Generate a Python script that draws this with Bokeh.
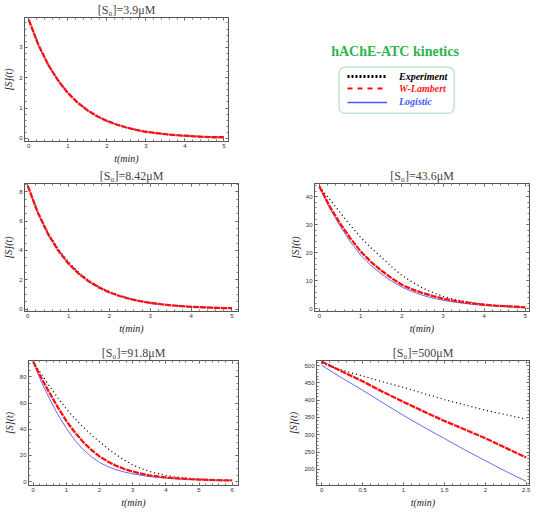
import numpy as np
from bokeh.plotting import figure
from bokeh.models import (Range1d, FixedTicker, LinearAxis, BoxAnnotation, Label,
                          Legend, LegendItem)
from bokeh.layouts import row, column
from bokeh.embed import file_html
from bokeh.resources import INLINE

# ---------------- data ----------------
series_names = ["Experiment", "W-Lambert", "Logistic"]

# Panel 1: [S0]=3.9 uM
t1 = [0, 0.25, 0.5, 0.75, 1, 1.25, 1.5, 1.75, 2, 2.25, 2.5, 2.75, 3, 3.25, 3.5, 3.75, 4, 4.25, 4.5, 4.75, 5]
exp1 = [3.90, 3.08, 2.43, 1.92, 1.51, 1.19, 0.94, 0.74, 0.58, 0.46, 0.36, 0.29, 0.23, 0.18, 0.14, 0.11, 0.09, 0.07, 0.06, 0.05, 0.04]
lam1 = [3.90, 3.07, 2.42, 1.91, 1.50, 1.18, 0.93, 0.73, 0.58, 0.46, 0.36, 0.28, 0.22, 0.18, 0.14, 0.11, 0.09, 0.07, 0.05, 0.04, 0.04]
log1 = [3.90, 3.06, 2.41, 1.90, 1.49, 1.18, 0.93, 0.73, 0.57, 0.45, 0.36, 0.28, 0.22, 0.17, 0.14, 0.11, 0.08, 0.07, 0.05, 0.04, 0.03]

# Panel 2: [S0]=8.42 uM
t2 = [0, 0.25, 0.5, 0.75, 1, 1.25, 1.5, 1.75, 2, 2.25, 2.5, 2.75, 3, 3.25, 3.5, 3.75, 4, 4.25, 4.5, 4.75, 5]
exp2 = [8.42, 6.62, 5.20, 4.08, 3.20, 2.50, 1.95, 1.52, 1.18, 0.92, 0.72, 0.56, 0.43, 0.34, 0.26, 0.20, 0.16, 0.12, 0.10, 0.08, 0.06]
lam2 = [8.42, 6.56, 5.11, 3.98, 3.10, 2.41, 1.88, 1.46, 1.14, 0.89, 0.69, 0.54, 0.42, 0.33, 0.25, 0.20, 0.15, 0.12, 0.09, 0.07, 0.06]
log2 = [8.42, 6.54, 5.08, 3.95, 3.07, 2.39, 1.86, 1.45, 1.13, 0.88, 0.68, 0.53, 0.41, 0.32, 0.25, 0.19, 0.15, 0.12, 0.09, 0.07, 0.05]

# Panel 3: [S0]=43.6 uM
t3 = [0, 0.25, 0.5, 0.75, 1, 1.25, 1.5, 1.75, 2, 2.25, 2.5, 2.75, 3, 3.25, 3.5, 3.75, 4, 4.25, 4.5, 4.75, 5]
exp3 = [43.6, 39.0, 34.4, 29.8, 25.5, 21.8, 18.5, 15.1, 12.0, 9.6, 7.5, 5.9, 4.5, 3.5, 2.8, 2.2, 1.7, 1.4, 1.1, 0.9, 0.7]
lam3 = [43.6, 36.5, 30.5, 25.2, 20.5, 16.8, 13.7, 11.0, 8.6, 7.0, 5.7, 4.6, 3.7, 3.0, 2.4, 1.9, 1.5, 1.2, 1.0, 0.8, 0.6]
log3 = [43.6, 35.8, 29.6, 23.9, 19.2, 15.5, 12.5, 9.9, 7.8, 6.2, 4.9, 3.9, 3.1, 2.5, 2.0, 1.6, 1.3, 1.05, 0.85, 0.7, 0.55]

# Panel 4: [S0]=91.8 uM
t4 = [0, 0.25, 0.5, 0.75, 1, 1.25, 1.5, 1.75, 2, 2.25, 2.5, 2.75, 3, 3.25, 3.5, 3.75, 4, 4.25, 4.5, 4.75, 5, 5.25, 5.5, 5.75, 6]
exp4 = [91.8, 82.0, 72.6, 63.8, 55.5, 48.3, 41.8, 35.8, 30.4, 25.3, 20.6, 16.4, 12.8, 10.0, 7.8, 6.1, 4.8, 3.8, 3.0, 2.4, 1.9, 1.6, 1.3, 1.1, 0.9]
lam4 = [91.8, 79.0, 67.5, 56.5, 46.4, 37.8, 30.4, 24.3, 19.2, 15.3, 12.1, 9.6, 7.6, 6.0, 4.8, 3.9, 3.2, 2.6, 2.2, 1.8, 1.5, 1.3, 1.1, 0.95, 0.85]
log4 = [91.8, 76.0, 63.0, 51.0, 40.7, 31.8, 24.7, 19.1, 14.6, 11.5, 9.1, 7.3, 5.9, 4.8, 3.9, 3.2, 2.7, 2.2, 1.9, 1.6, 1.4, 1.2, 1.0, 0.9, 0.8]

# Panel 5: [S0]=500 uM
t5 = [0, 0.25, 0.5, 0.75, 1, 1.25, 1.5, 1.75, 2, 2.25, 2.5]
exp5 = [507, 487, 470, 453, 437, 419, 402, 386, 371, 358, 345]
lam5 = [512, 483, 455, 424, 395, 367, 340, 315, 290, 262, 234]
log5 = [501, 464, 429, 392, 356, 322, 289, 256, 225, 194, 165]

titles = ["[S\u2080]=3.9\u03bcM", "[S\u2080]=8.42\u03bcM", "[S\u2080]=43.6\u03bcM",
          "[S\u2080]=91.8\u03bcM", "[S\u2080]=500\u03bcM"]

xt_0_5 = [0, 1, 2, 3, 4, 5]
xt_0_6 = [0, 1, 2, 3, 4, 5, 6]
xt5 = [0, 0.5, 1, 1.5, 2, 2.5]
xt5_labels = ["0", "0.5", "1", "1.5", "2", "2.5"]
yt1 = [0, 1, 2, 3]
yt2 = [0, 2, 4, 6, 8]
yt3 = [0, 10, 20, 30, 40]
yt4 = [0, 20, 40, 60, 80]
yt5 = [200, 250, 300, 350, 400, 450, 500]

legend_title = "hAChE-ATC kinetics"

# ---------------- styling ----------------
C_EXP = "black"
C_LAM = "#ff1010"
C_LOG = "#6a6aff"
SERIF = "Liberation Serif"
TICKFONT = "Liberation Sans"


def minor(lo, hi, step):
    return [float(v) for v in np.arange(lo, hi + step / 2, step)]


def style_axis(ax, labels=True):
    ax.axis_line_color = "#555555"
    ax.major_tick_in = 3
    ax.major_tick_out = 0
    ax.minor_tick_in = 2
    ax.minor_tick_out = 0
    ax.major_tick_line_color = "#444444"
    ax.minor_tick_line_color = "#777777"
    if labels:
        ax.major_label_text_font = TICKFONT
        ax.major_label_text_font_size = "6px"
        ax.major_label_text_color = "#333333"
        ax.major_label_standoff = 2
        ax.axis_label_text_font = SERIF
        ax.axis_label_text_font_style = "italic"
        ax.axis_label_text_font_size = "10px"
        ax.axis_label_text_color = "#222222"
        ax.axis_label_standoff = 2
    else:
        ax.major_label_text_font_size = "1px"
        ax.major_label_text_color = None
        ax.major_label_text_alpha = 0
        ax.major_label_standoff = 0


def panel(title, t, e, l, g, xr, yr, xt, xminor, yt, yminor, w, h, bl, br, bt,
          xlabels=None):
    p = figure(width=w, height=h, x_range=Range1d(*xr), y_range=Range1d(*yr),
               output_backend="svg", toolbar_location=None, title=title,
               min_border_left=bl, min_border_right=br, min_border_top=bt,
               min_border_bottom=22, x_axis_label="t(min)", y_axis_label="[S](t)")
    p.title.text_font = SERIF
    p.title.text_font_style = "normal"
    p.title.text_font_size = "12px"
    p.title.align = "center"
    p.title.standoff = 1
    p.title.offset = 0
    p.outline_line_color = "#555555"
    p.grid.visible = False
    p.xaxis.ticker = FixedTicker(ticks=xt, minor_ticks=xminor)
    p.yaxis.ticker = FixedTicker(ticks=yt, minor_ticks=yminor)
    style_axis(p.xaxis[0])
    style_axis(p.yaxis[0])
    if xlabels is not None:
        p.xaxis.major_label_overrides = {k: v for k, v in zip(xt, xlabels)}
    top = LinearAxis(ticker=FixedTicker(ticks=xt, minor_ticks=xminor))
    right = LinearAxis(ticker=FixedTicker(ticks=yt, minor_ticks=yminor))
    style_axis(top, labels=False)
    style_axis(right, labels=False)
    p.add_layout(top, "above")
    p.add_layout(right, "right")
    p.line(t, e, line_color=C_EXP, line_width=1.3, line_dash="1 3")
    p.line(t, g, line_color=C_LOG, line_width=1.0)
    p.line(t, l, line_color=C_LAM, line_width=2.3, line_dash="6 1")
    return p


RH1, RH2, RH3 = 166, 170, 174
LW, RW = 262, 272

p1 = panel(titles[0], t1, exp1, lam1, log1, (-0.11, 5.12), (-0.1, 3.98),
           xt_0_5, minor(0, 5, 0.2), yt1, minor(0, 3.8, 0.2), LW, RH1, 20, 34, 16)
p2 = panel(titles[1], t2, exp2, lam2, log2, (-0.08, 5.16), (-0.17, 8.58),
           xt_0_5, minor(0, 5, 0.2), yt2, minor(0, 8.5, 0.5), LW, RH2, 24, 24, 16)
p3 = panel(titles[2], t3, exp3, lam3, log3, (-0.12, 5.1), (-0.9, 44.7),
           xt_0_5, minor(0, 5, 0.2), yt3, minor(0, 44, 2), RW, RH2, 52, 5, 16)
p4 = panel(titles[3], t4, exp4, lam4, log4, (-0.14, 6.19), (-3, 92.5),
           xt_0_6, minor(0, 6, 0.2), yt4, minor(0, 90, 5), LW, RH3, 24, 24, 24)
p5 = panel(titles[4], t5, exp5, lam5, log5, (-0.063, 2.54), (153, 515),
           xt5, minor(0, 2.5, 0.1), yt5, minor(160, 510, 10), RW, RH3, 54, 5, 24,
           xlabels=xt5_labels)

# ---------------- legend panel ----------------
# its frame is aligned with the frame of p1 (top 16, bottom 22)
FH = RH1 - 16 - 22
leg = figure(width=RW, height=RH1, x_range=Range1d(0, RW), y_range=Range1d(FH, 0),
             x_axis_type=None, y_axis_type=None, toolbar_location=None,
             output_backend="svg", min_border=0, outline_line_color=None)
leg.grid.visible = False
nan = [float("nan")]
r_e = leg.line(nan, nan, line_color=C_EXP, line_width=3, line_dash="2 2")
r_l = leg.line(nan, nan, line_color=C_LAM, line_width=1.8, line_dash="5 5")
r_g = leg.line(nan, nan, line_color="#3c5cff", line_width=1.6)

leg.add_layout(BoxAnnotation(left=76.5, right=191.7, top=51.2, bottom=98.8,
                             fill_alpha=0, line_color="#3cb84e", line_width=1.6,
                             border_radius=6))
leg.add_layout(Label(x=132.5, y=35.4, text=legend_title, text_align="center",
                     text_baseline="middle", text_font=SERIF,
                     text_font_style="bold", text_font_size="14px",
                     text_color="#2fb34a"))

label_colors = ["black", "#ff1a1a", "#3c5cff"]
row_y = [63.2, 75.2, 88.8]
for name, rend, col, ry in zip(series_names, [r_e, r_l, r_g], label_colors, row_y):
    lg = Legend(items=[LegendItem(label=name, renderers=[rend])],
                location=(85, FH - ry - 6), padding=0, margin=0, spacing=0,
                glyph_width=40, glyph_height=12, label_height=12,
                label_standoff=12, label_text_font=SERIF,
                label_text_font_style="bold italic", label_text_font_size="10px",
                label_text_color=col, border_line_color=None,
                background_fill_alpha=0)
    leg.add_layout(lg)

layout = column(row(p1, leg), row(p2, p3), row(p4, p5))

open("out.html", "w").write(file_html(layout, INLINE))
